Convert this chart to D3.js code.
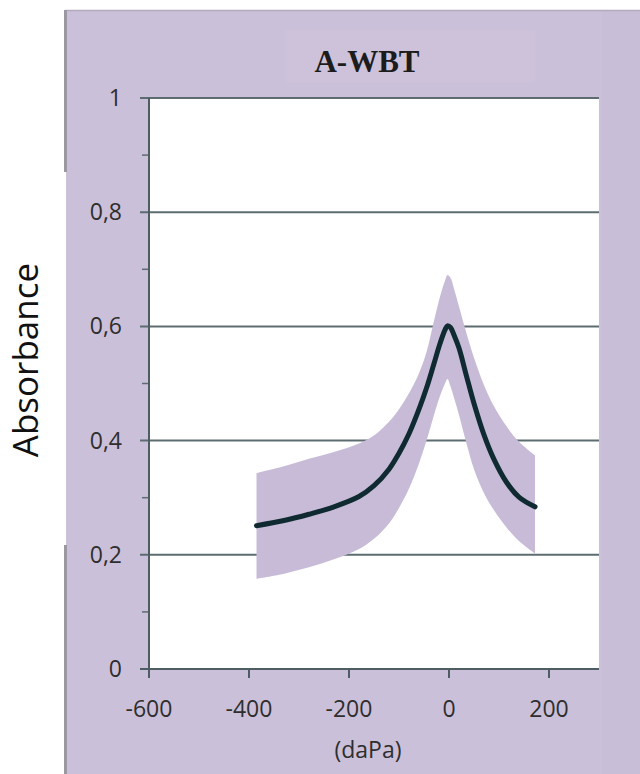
<!DOCTYPE html>
<html>
<head>
<meta charset="utf-8">
<script src="https://cdn.jsdelivr.net/npm/d3@7"></script>
<style>
  body { margin: 0; background: #fff; }
  svg { display: block; }
</style>
</head>
<body>
<div id="chart"></div>
<script>
// pressure (daPa) and absorbance
var pressures = [-385, -330, -280, -230, -180, -150, -120, -100, -80, -60, -45, -30, -18, -8, -3, 3, 10, 20, 35, 50, 70, 90, 115, 140, 172];
var meanAbs  = [0.251, 0.260, 0.271, 0.284, 0.302, 0.321, 0.350, 0.378, 0.412, 0.455, 0.492, 0.535, 0.570, 0.594, 0.601, 0.598, 0.585, 0.562, 0.513, 0.465, 0.410, 0.367, 0.327, 0.301, 0.284];
var upperAbs = [0.343, 0.355, 0.368, 0.380, 0.395, 0.409, 0.433, 0.455, 0.483, 0.518, 0.555, 0.610, 0.652, 0.680, 0.690, 0.685, 0.666, 0.635, 0.588, 0.545, 0.497, 0.460, 0.425, 0.398, 0.374];
var lowerAbs = [0.158, 0.167, 0.178, 0.192, 0.210, 0.228, 0.255, 0.282, 0.316, 0.360, 0.400, 0.445, 0.478, 0.500, 0.508, 0.495, 0.475, 0.445, 0.395, 0.350, 0.308, 0.278, 0.248, 0.224, 0.202];

var xTicks = [-600, -400, -200, 0, 200];
var yMajor = [0, 0.2, 0.4, 0.6, 0.8, 1];
var yMinor = [0.1, 0.3, 0.5, 0.7, 0.9];

var W = 640, H = 774;
var PANEL = '#cbc0d9', BAND = '#c8bbd8', LINE = '#0f2b31', GRID = '#5d6c70';

var svg = d3.select('#chart').append('svg').attr('width', W).attr('height', H);

var x = d3.scaleLinear().domain([-600, 300]).range([149, 599]);
var y = d3.scaleLinear().domain([0, 1]).range([669, 98]);

// background panel
svg.append('rect').attr('x', 65).attr('y', 10).attr('width', W - 65).attr('height', H - 10).attr('fill', PANEL);
svg.append('rect').attr('x', 602).attr('y', 10).attr('width', 38).attr('height', H - 10).attr('fill', '#c9bed7');
svg.append('line').attr('x1', 65).attr('x2', W).attr('y1', 10.5).attr('y2', 10.5).attr('stroke', '#b3abbd').attr('stroke-width', 1.5);
[[10, 172], [545, H]].forEach(function (s) {
  svg.append('line').attr('x1', 65.5).attr('x2', 65.5).attr('y1', s[0]).attr('y2', s[1])
    .attr('stroke', '#9c98a2').attr('stroke-width', 3);
});
// white strip behind the axis title
svg.append('rect').attr('x', 0).attr('y', 172).attr('width', 66).attr('height', 373).attr('fill', '#fff');

// title box
svg.append('rect').attr('x', 285).attr('y', 30).attr('width', 250).attr('height', 53).attr('fill', '#cdc2da');
svg.append('text').text('A-WBT')
  .attr('x', 367).attr('y', 72)
  .attr('text-anchor', 'middle')
  .attr('font-family', '"Liberation Serif", "DejaVu Serif", serif')
  .attr('font-weight', 'bold')
  .attr('font-size', 31)
  .attr('fill', '#1c1c1c');

// plot area
svg.append('rect').attr('x', x(-600)).attr('y', y(1)).attr('width', x(300) - x(-600)).attr('height', y(0) - y(1)).attr('fill', '#fff');

// gridlines (extend left as major ticks)
svg.selectAll('.grid').data(yMajor).enter().append('line')
  .attr('x1', x(-600) - 9).attr('x2', x(300))
  .attr('y1', function (d) { return y(d); }).attr('y2', function (d) { return y(d); })
  .attr('stroke', GRID).attr('stroke-width', 2);

svg.selectAll('.minor').data(yMinor).enter().append('line')
  .attr('x1', x(-600) - 7).attr('x2', x(-600))
  .attr('y1', function (d) { return y(d); }).attr('y2', function (d) { return y(d); })
  .attr('stroke', GRID).attr('stroke-width', 1.5);

// confidence band
var area = d3.area()
  .x(function (d) { return x(d.p); })
  .y0(function (d) { return y(d.lo); })
  .y1(function (d) { return y(d.hi); })
  .curve(d3.curveCatmullRom.alpha(0.5));

var pts = pressures.map(function (p, i) {
  return { p: p, m: meanAbs[i], hi: upperAbs[i], lo: lowerAbs[i] };
});

svg.append('path').datum(pts).attr('d', area).attr('fill', BAND);

// y axis line and x axis line
svg.append('line').attr('x1', x(-600)).attr('x2', x(-600)).attr('y1', y(1)).attr('y2', y(0) + 9)
  .attr('stroke', '#4e5d61').attr('stroke-width', 2);
svg.append('line').attr('x1', x(-600) - 9).attr('x2', x(300)).attr('y1', y(0)).attr('y2', y(0))
  .attr('stroke', '#4e5d61').attr('stroke-width', 2);

svg.selectAll('.xt').data(xTicks).enter().append('line')
  .attr('x1', function (d) { return x(d); }).attr('x2', function (d) { return x(d); })
  .attr('y1', y(0)).attr('y2', y(0) + 9)
  .attr('stroke', '#4e5d61').attr('stroke-width', 2);

// mean curve
var line = d3.line()
  .x(function (d) { return x(d.p); })
  .y(function (d) { return y(d.m); })
  .curve(d3.curveCatmullRom.alpha(0.5));

svg.append('path').datum(pts).attr('d', line)
  .attr('fill', 'none').attr('stroke', LINE).attr('stroke-width', 5).attr('stroke-linecap', 'round');

// tick labels
var fmt = function (d) { return String(d).replace('.', ','); };

svg.selectAll('.yl').data(yMajor).enter().append('text')
  .text(fmt)
  .attr('x', 122).attr('y', function (d) { return y(d) + 8; })
  .attr('text-anchor', 'end')
  .attr('font-family', '"Open Sans", sans-serif').attr('font-size', 23)
  .attr('fill', '#2e2e2e');

svg.selectAll('.xl').data(xTicks).enter().append('text')
  .text(function (d) { return d; })
  .attr('x', function (d) { return x(d); }).attr('y', 717)
  .attr('text-anchor', 'middle')
  .attr('font-family', '"Open Sans", sans-serif').attr('font-size', 23)
  .attr('fill', '#2e2e2e');

svg.append('text').text('(daPa)')
  .attr('x', 368).attr('y', 758)
  .attr('text-anchor', 'middle')
  .attr('font-family', '"Open Sans", sans-serif').attr('font-size', 23)
  .attr('fill', '#2e2e2e');

svg.append('text').text('Absorbance')
  .attr('transform', 'translate(38,360) rotate(-90)')
  .attr('text-anchor', 'middle')
  .attr('font-family', '"Open Sans", sans-serif').attr('font-size', 35)
  .attr('fill', '#111');
</script>
</body>
</html>
